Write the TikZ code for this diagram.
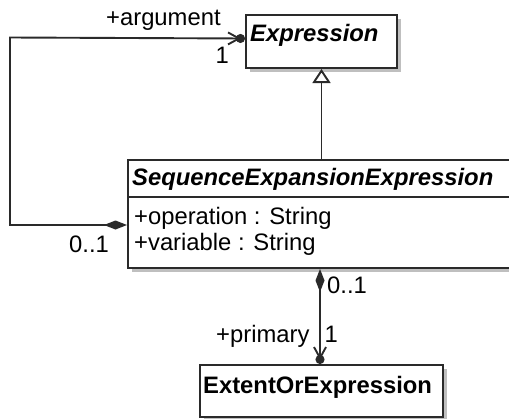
\documentclass[tikz,border=0pt]{standalone}
\usepackage{fontspec}
\setmainfont{Liberation Sans}
\usetikzlibrary{arrows.meta,shadows}
\definecolor{boxline}{HTML}{2A2A2A}
\begin{document}
\begin{tikzpicture}[x=1pt,y=-1pt,
  box/.style={draw=boxline, line width=2pt, fill=white, inner sep=0pt, anchor=north west,
    drop shadow={shadow xshift=4pt, shadow yshift=-4pt, fill=black!25, opacity=1}},
  txt/.style={inner sep=0pt, anchor=base west, font=\fontsize{23.8}{28}\selectfont},
  title/.style={txt, font=\fontsize{23.8}{28}\selectfont\bfseries\itshape},
  ctitle/.style={txt, font=\fontsize{23.8}{28}\selectfont\bfseries},
  conn/.style={draw=boxline, line width=1.9pt, line join=miter},
]
\useasboundingbox (0,0) rectangle (509,418);
\clip (0,0) rectangle (509,418);

% classes
\node[box, minimum width=151pt, minimum height=53pt] (expr) at (245,14) {};
\node[box, minimum width=400pt, minimum height=108pt] (see) at (127,159) {};
\node[box, minimum width=243pt, minimum height=52pt] (eoe) at (199,364) {};
\draw[conn] ([yshift=-38pt]see.north west) -- ([yshift=-38pt]see.north east);

% class texts
\node[title] (exprt) at (250,41) {Expression};
\node[title] (seet) at (132,185) {SequenceExpansionExpression};
\node[txt] (op) at (134,224) {+operation : String};
\node[txt] (var) at (134,250) {+variable : String};
\node[ctitle] (eoet) at (203,393) {ExtentOrExpression};

% generalization
\draw[conn, -{Triangle[length=14pt, width=18pt, fill=white]}] (expr.south |- see.north) -- (expr.south);

% argument association
\coordinate (bend) at (10,37.5);
\draw[conn, {Diamond[length=23pt, width=9pt]}-{Straight Barb[length=11pt, width=12pt, sep=-5pt]Circle[length=9pt]}]
  ([yshift=-66pt]see.north west) -| (bend) -- ([yshift=3pt]expr.west);

% primary association
\draw[conn, {Diamond[length=23pt, width=9pt]}-{Straight Barb[length=11pt, width=12pt, sep=-5pt]Circle[length=9pt]}]
  ([xshift=-1.5pt]eoe.north |- see.south) -- ([xshift=-1.5pt]eoe.north);

% role and multiplicity labels
\node[txt] (argl) at (106,25) {+argument};
\node[txt] (argm) at (215.5,63) {1};
\node[txt] (srcm) at (69,252) {0..1};
\node[txt] (prsrc) at (327,293) {0..1};
\node[txt] (prl) at (216,342) {+primary};
\node[txt] (prm) at (324.5,342) {1};
\end{tikzpicture}
\end{document}
